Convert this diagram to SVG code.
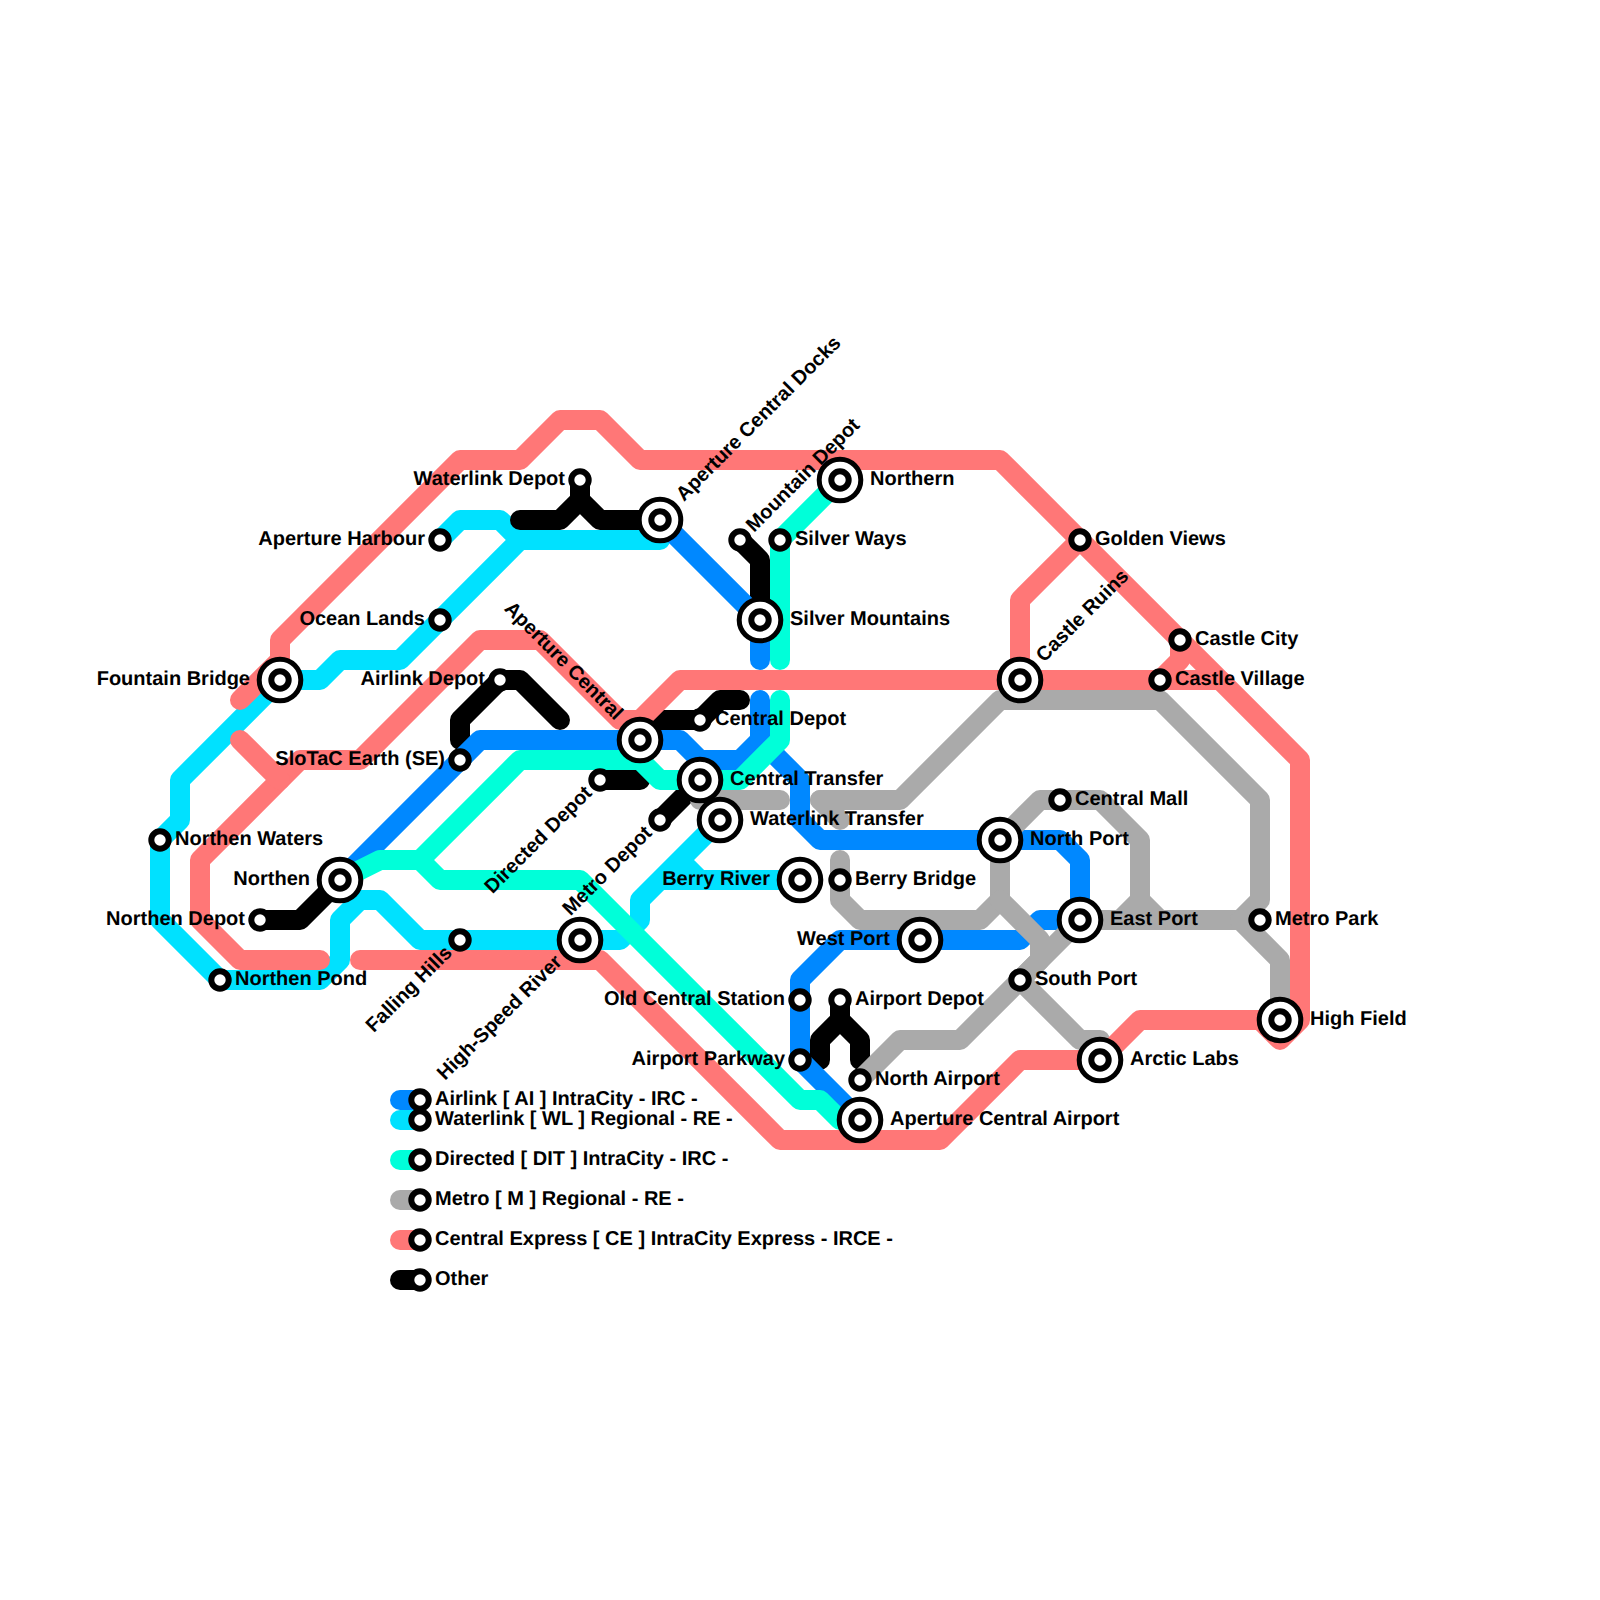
<svg xmlns="http://www.w3.org/2000/svg" width="1600" height="1600" viewBox="0 0 1600 1600">
<style>
text{font-family:"Liberation Sans",Arial,sans-serif;font-weight:700;font-size:20px;fill:#000;text-rendering:geometricPrecision}
.e{text-anchor:end}
path{fill:none;stroke-width:20;stroke-linecap:round;stroke-linejoin:round}
.k{stroke:#000}.b{stroke:#0088ff}.c{stroke:#00e1ff}.t{stroke:#00ffd9}.g{stroke:#aaa}.r{stroke:#ff7777}
circle{fill:#fff;stroke:#000;stroke-width:6}
.w{stroke-width:5}
</style>
<defs>
<g id="s"><circle r="8.7"/></g>
<g id="i"><circle class="w" r="20.8"/><circle r="8.7"/></g>
</defs>
<rect width="1600" height="1600" fill="#fff"/>
<g id="connectors">
<path class="c" d="M440 540L460 520H500L520 540H660M520 540L400 660H340L320 680H280L180 780V820L160 840V920L220 980H320L340 960V920L360 900H380L420 940H620L640 920V900L720 820M680 860L700 880M660 880H800"/>
<path class="k" d="M520 520H560L580 500V480M580 500L600 520H660"/>
<path class="k" d="M460 740V720L500 680H520L560 720"/>
<path class="k" d="M600 780H640"/>
<path class="k" d="M260 920H300L340 880"/>
<path class="k" d="M660 820L700 780"/>
<path class="k" d="M640 720H700L720 700H740"/>
<path class="k" d="M740 540L760 560V620"/>
<path class="k" d="M840 1000V1020L820 1040V1060M840 1020L860 1040V1060"/>
<path class="b" d="M340 880L480 740H680L700 760H740L760 740V700"/>
<path class="b" d="M660 520L760 620V660"/>
<path class="b" d="M760 740L800 780V820L820 840H1060L1080 860V920H1040L1020 940H840L800 980V1060L860 1120"/>
<path class="t" d="M340 880L380 860H420L520 760H640L660 780H740L780 740V700"/>
<path class="t" d="M420 860L440 880H580L800 1100H820L840 1120H860"/>
<path class="t" d="M840 480L780 540V660"/>
<path class="g" d="M700 800H780"/>
<path class="g" d="M820 800H900L1000 700H1160L1260 800V900L1240 920H1080L1020 980L960 1040H900L860 1080"/>
<path class="g" d="M820 800L840 820M840 860V900L860 920H980L1000 900V840L1040 800H1100L1140 840V900L1160 920M1140 900L1120 920"/>
<path class="g" d="M1000 900L1040 940V960L1020 980L1080 1040H1100V1060"/>
<path class="g" d="M1240 920L1280 960V1020"/>
<path class="r" d="M240 700L280 660V640L460 460H520L560 420H600L640 460H1000L1300 760V1020L1280 1040L1260 1020H1140L1100 1060H1020L940 1140H780L600 960H360"/>
<path class="r" d="M320 960H240L200 920V860L300 760H360L480 640H540L620 720H640L680 680H1220"/>
<path class="r" d="M240 740L280 780"/>
<path class="r" d="M1020 680V600L1080 540M1180 640V660L1160 680"/>
</g>
<g id="legend">
<path class="b" d="M400 1100H420"/><path class="c" d="M400 1120H420"/><path class="t" d="M400 1160H420"/><path class="g" d="M400 1200H420"/><path class="r" d="M400 1240H420"/><path class="k" d="M400 1280H420"/>
<use href="#s" x="420" y="1100"/><use href="#s" x="420" y="1120"/><use href="#s" x="420" y="1160"/><use href="#s" x="420" y="1200"/><use href="#s" x="420" y="1240"/><use href="#s" x="420" y="1280"/>
<text x="435" y="1105">Airlink [ AI ] IntraCity - IRC -</text>
<text x="435" y="1125">Waterlink [ WL ] Regional - RE -</text>
<text x="435" y="1165">Directed [ DIT ] IntraCity - IRC -</text>
<text x="435" y="1205">Metro [ M ] Regional - RE -</text>
<text x="435" y="1245">Central Express [ CE ] IntraCity Express - IRCE -</text>
<text x="435" y="1285">Other</text>
</g>
<g id="n-waterlink-depot"><use href="#s" x="580" y="480"/><text class="e" x="565" y="485">Waterlink Depot</text></g>
<g id="n-aperture-harbour"><use href="#s" x="440" y="540"/><text class="e" x="425" y="545">Aperture Harbour</text></g>
<g id="n-ocean-lands"><use href="#s" x="440" y="620"/><text class="e" x="425" y="625">Ocean Lands</text></g>
<g id="n-fountain-bridge"><use href="#i" x="280" y="680"/><text class="e" x="250" y="685">Fountain Bridge</text></g>
<g id="n-airlink-depot"><use href="#s" x="500" y="680"/><text class="e" x="485" y="685">Airlink Depot</text></g>
<g id="n-slotac"><use href="#s" x="460" y="760"/><text class="e" x="445" y="765">SloTaC Earth (SE)</text></g>
<g id="n-aperture-central"><use href="#i" x="640" y="740"/><text class="e" transform="translate(615 721) rotate(45)">Aperture Central</text></g>
<g id="n-directed-depot"><use href="#s" x="600" y="780"/><text class="e" transform="translate(593 794) rotate(-45)">Directed Depot</text></g>
<g id="n-northen-waters"><use href="#s" x="160" y="840"/><text x="175" y="845">Northen Waters</text></g>
<g id="n-northen"><use href="#i" x="340" y="880"/><text class="e" x="310" y="885">Northen</text></g>
<g id="n-northen-depot"><use href="#s" x="260" y="920"/><text class="e" x="245" y="925">Northen Depot</text></g>
<g id="n-northen-pond"><use href="#s" x="220" y="980"/><text x="235" y="985">Northen Pond</text></g>
<g id="n-falling-hills"><use href="#s" x="460" y="940"/><text class="e" transform="translate(453 954) rotate(-45)">Falling Hills</text></g>
<g id="n-high-speed-river"><use href="#i" x="580" y="940"/><text class="e" transform="translate(563 963) rotate(-45)">High-Speed River</text></g>
<g id="n-central-depot"><use href="#s" x="700" y="720"/><text x="715" y="725">Central Depot</text></g>
<g id="n-central-transfer"><use href="#i" x="700" y="780"/><text x="730" y="785">Central Transfer</text></g>
<g id="n-waterlink-transfer"><use href="#i" x="720" y="820"/><text x="750" y="825">Waterlink Transfer</text></g>
<g id="n-metro-depot"><use href="#s" x="660" y="820"/><text class="e" transform="translate(653 834) rotate(-45)">Metro Depot</text></g>
<g id="n-berry-river"><use href="#i" x="800" y="880"/><text class="e" x="770" y="885">Berry River</text></g>
<g id="n-berry-bridge"><use href="#s" x="840" y="880"/><text x="855" y="885">Berry Bridge</text></g>
<g id="n-west-port"><use href="#i" x="920" y="940"/><text class="e" x="890" y="945">West Port</text></g>
<g id="n-aperture-central-docks"><use href="#i" x="660" y="520"/><text transform="translate(684 502) rotate(-45)">Aperture Central Docks</text></g>
<g id="n-mountain-depot"><use href="#s" x="740" y="540"/><text transform="translate(754 533) rotate(-45)">Mountain Depot</text></g>
<g id="n-silver-ways"><use href="#s" x="780" y="540"/><text x="795" y="545">Silver Ways</text></g>
<g id="n-northern"><use href="#i" x="840" y="480"/><text x="870" y="485">Northern</text></g>
<g id="n-silver-mountains"><use href="#i" x="760" y="620"/><text x="790" y="625">Silver Mountains</text></g>
<g id="n-castle-ruins"><use href="#i" x="1020" y="680"/><text transform="translate(1044 663) rotate(-45)">Castle Ruins</text></g>
<g id="n-golden-views"><use href="#s" x="1080" y="540"/><text x="1095" y="545">Golden Views</text></g>
<g id="n-castle-city"><use href="#s" x="1180" y="640"/><text x="1195" y="645">Castle City</text></g>
<g id="n-castle-village"><use href="#s" x="1160" y="680"/><text x="1175" y="685">Castle Village</text></g>
<g id="n-central-mall"><use href="#s" x="1060" y="800"/><text x="1075" y="805">Central Mall</text></g>
<g id="n-north-port"><use href="#i" x="1000" y="840"/><text x="1030" y="845">North Port</text></g>
<g id="n-east-port"><use href="#i" x="1080" y="920"/><text x="1110" y="925">East Port</text></g>
<g id="n-metro-park"><use href="#s" x="1260" y="920"/><text x="1275" y="925">Metro Park</text></g>
<g id="n-south-port"><use href="#s" x="1020" y="980"/><text x="1035" y="985">South Port</text></g>
<g id="n-high-field"><use href="#i" x="1280" y="1020"/><text x="1310" y="1025">High Field</text></g>
<g id="n-arctic-labs"><use href="#i" x="1100" y="1060"/><text x="1130" y="1065">Arctic Labs</text></g>
<g id="n-old-central-station"><use href="#s" x="800" y="1000"/><text class="e" x="785" y="1005">Old Central Station</text></g>
<g id="n-airport-depot"><use href="#s" x="840" y="1000"/><text x="855" y="1005">Airport Depot</text></g>
<g id="n-airport-parkway"><use href="#s" x="800" y="1060"/><text class="e" x="785" y="1065">Airport Parkway</text></g>
<g id="n-north-airport"><use href="#s" x="860" y="1080"/><text x="875" y="1085">North Airport</text></g>
<g id="n-aperture-central-airport"><use href="#i" x="860" y="1120"/><text x="890" y="1125">Aperture Central Airport</text></g>
</svg>
